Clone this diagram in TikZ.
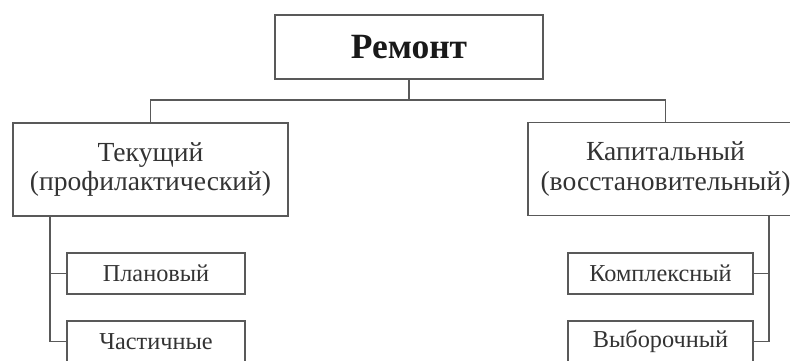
\documentclass[tikz,border=0pt]{standalone}
\usepackage{fontspec}
\setmainfont{Liberation Serif}
\begin{document}
\begin{tikzpicture}[x=1pt,y=-1pt,
  ln/.style={draw=black!65,line width=1.9pt},
  bigbox/.style={ln,rectangle,inner sep=0pt,minimum width=275,minimum height=93,align=center,text=black!80,font=\fontsize{27.6}{29.5}\selectfont},
  smallbox/.style={ln,rectangle,inner sep=0pt,minimum height=41,text=black!80,font=\fontsize{24.3}{26}\selectfont},
  conn/.style={draw=black!65,line width=1.9pt}]
\useasboundingbox (0,0) rectangle (790,361);
\clip (0,0) rectangle (790,361);
\node[ln,rectangle,minimum width=268,minimum height=64,inner sep=0pt,font=\fontsize{35.5}{38}\selectfont\bfseries,text=black!90] (top) at (409,47) {Ремонт};
\node[bigbox] (left) at (150.5,169.5) {Текущий\\(профилактический)};
\node[bigbox] (right) at (665.5,169) {Капитальный\\(восстановительный)};
\node[smallbox,minimum width=178] (p1) at (156,273.5) {Плановый};
\node[smallbox,minimum width=178] (p2) at (156,341.5) {Частичные};
\node[smallbox,minimum width=185] (k1) at (660.5,273.5) {Комплексный};
\node[smallbox,minimum width=185] (k2) at (660.5,341.5) {Выборочный};
\coordinate (bus) at (409,100);
\coordinate (lx) at (50,0);
\coordinate (rx) at (769,0);
\draw[conn] (top.south) -- (bus);
\draw[conn] (left.north) |- (bus) -| (right.north);
\draw[conn] (left.south -| lx) |- (p1.west);
\draw[conn] (left.south -| lx) |- (p2.west);
\draw[conn] (right.south -| rx) |- (k1.east);
\draw[conn] (right.south -| rx) |- (k2.east);
\end{tikzpicture}
\end{document}
